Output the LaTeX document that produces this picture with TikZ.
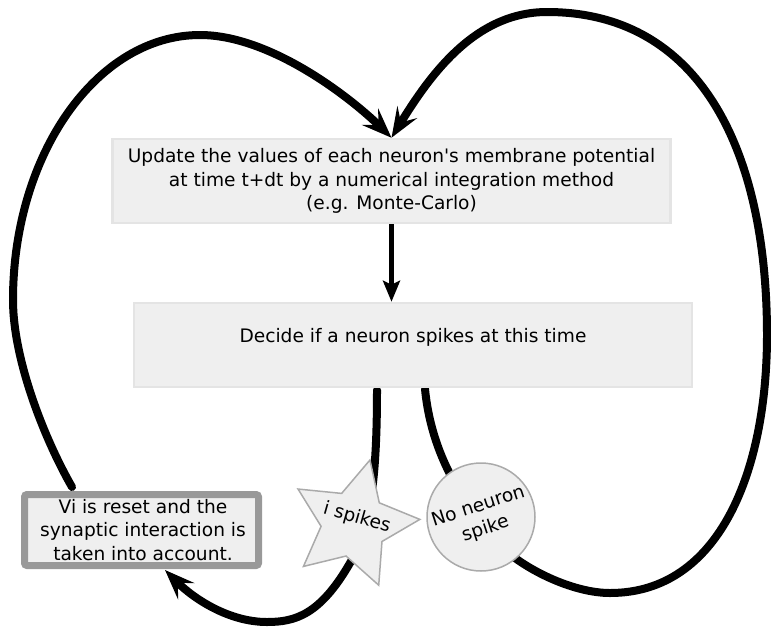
\documentclass[tikz,border=0pt]{standalone}
\usepackage{fontspec}
\newfontfamily\djv{DejaVu Sans}
\usetikzlibrary{arrows.meta,shapes.geometric,backgrounds}
\definecolor{boxfill}{HTML}{EFEFEF}
\definecolor{boxline}{HTML}{E4E4E4}
\definecolor{thickline}{HTML}{999999}
\definecolor{shapeline}{HTML}{AAAAAA}
\begin{document}
\begin{tikzpicture}[x=1pt,y=-1pt,
  every node/.style={font=\djv\fontsize{18.6}{23.5}\selectfont, text=black},
  flowbox/.style={draw=boxline, line width=2.5pt, fill=boxfill, inner sep=0pt},
  resetbox/.style={draw=thickline, line width=7pt, fill=boxfill, rounded corners=2.5pt, inner sep=0pt},
  shapenode/.style={draw=shapeline, line width=1.5pt, fill=boxfill, inner sep=0pt},
  loopline/.style={line width=8pt, line cap=round, draw=black},
  bigtip/.style={-{Stealth[length=30pt,width=23pt,inset=12pt]}},
  midarrow/.style={line width=5.5pt, -{Stealth[length=21pt,width=17pt,inset=4pt]}},
  txt/.style={inner sep=0pt, align=center}]
\useasboundingbox (0,0) rectangle (771,630);

% boxes and shapes
\node[flowbox, minimum width=558pt, minimum height=84pt] (upd) at (391.5,181) {};
\node[txt] (updtxt) at (upd.center) {Update the values of each neuron's membrane potential\\at time t+dt by a numerical integration method\\(e.g. Monte-Carlo)};
\node[flowbox, minimum width=558pt, minimum height=84pt] (dec) at (413,345) {};
\node[txt] (dectxt) at (413,337) {Decide if a neuron spikes at this time};
\node[resetbox, minimum width=234pt, minimum height=71pt] (res) at (141.5,530) {};
\node[txt] (restxt) at (143,530) {Vi is reset and the\\synaptic interaction is\\taken into account.};
\node[shapenode, star, star points=5, star point ratio=2, minimum size=132pt, shape border rotate=-14] (spk) at (354,524) {};
\node[txt, rotate=-16] (spktxt) at (357,518) {i spikes};
\node[shapenode, circle, minimum size=108pt] (nsp) at (481,517) {};
\node[txt, rotate=18] (nsptxt) at (482,518) {No neuron\\spike};

% connector end points
\coordinate (resTop) at (72,487);
\coordinate (resBot) at (165,570);
\coordinate (decL) at (377,390);
\coordinate (decR) at (425,389);
\coordinate (nspIn) at (505,550);
\coordinate (nspTop) at (452,478);

\begin{scope}[on background layer]
\draw[loopline, bigtip] (resTop) .. controls (45,440) and (13,360) .. (13,300)
  .. controls (13,154) and (97,35) .. (200,35)
  .. controls (270,35) and (350,97) .. (upd.north);
\draw[loopline, bigtip] (nspIn) .. controls (530,572) and (575,593) .. (610,593)
  .. controls (720,593) and (767,470) .. (767,335)
  .. controls (767,150) and (700,12) .. (547,12)
  .. controls (475,12) and (430,75) .. (upd.north);
\draw[loopline, bigtip] (decL) .. controls (377,480) and (370,530) .. (350,563)
  .. controls (320,615) and (295,622) .. (267,622)
  .. controls (230,622) and (195,600) .. (resBot);
\draw[loopline] (decR) .. controls (428,420) and (437,450) .. (nspTop);
\end{scope}
\draw[midarrow] (upd.south) -- (upd.south |- dec.north);
\end{tikzpicture}
\end{document}
